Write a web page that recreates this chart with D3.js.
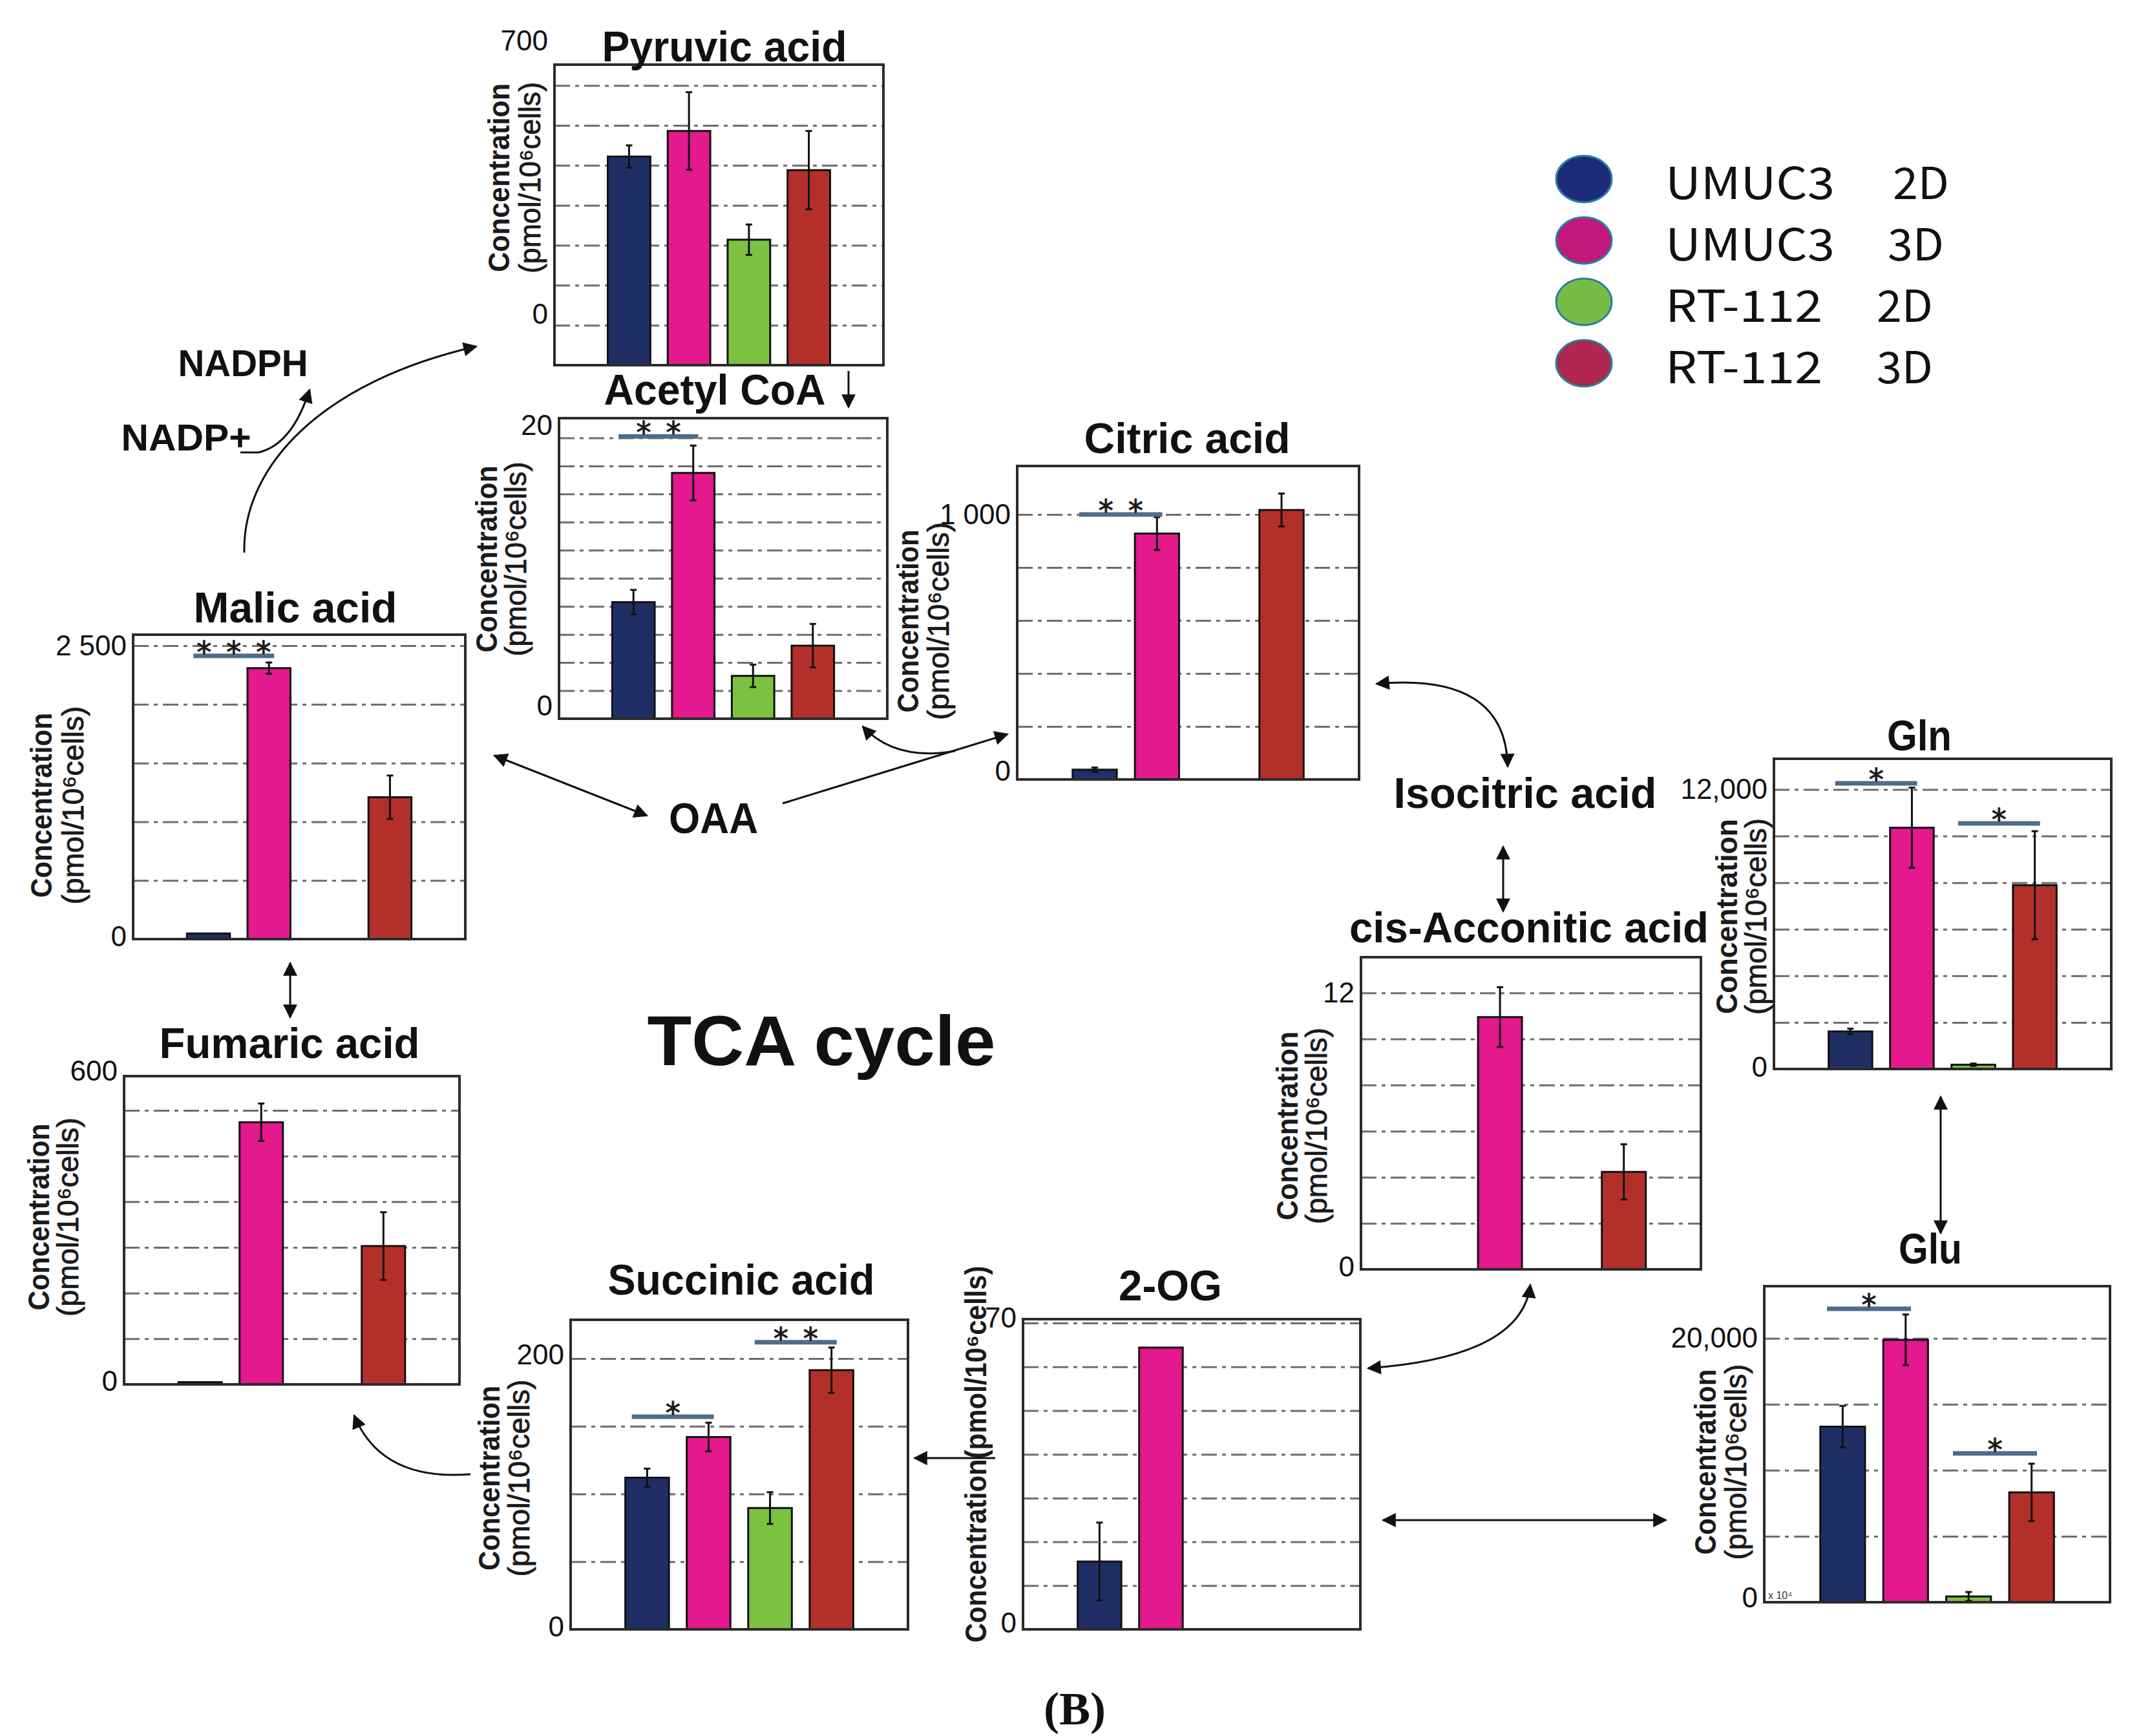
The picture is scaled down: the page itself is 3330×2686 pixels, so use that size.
<!DOCTYPE html>
<html>
<head>
<meta charset="utf-8">
<script src="https://cdn.jsdelivr.net/npm/d3@7"></script>
<style>
  body { margin: 0; background: #fff; }
</style>
</head>
<body>
<div id="chart"></div>
<script>
const W = 3330, H = 2686;

// groups and colours
const groups = ["UMUC3 2D", "UMUC3 3D", "RT-112 2D", "RT-112 3D"];
const legendNames = ["UMUC3", "UMUC3", "RT-112", "RT-112"];
const legendDims = ["2D", "3D", "2D", "3D"];
const barColors = ["#1f2f66", "#e3198d", "#7cc142", "#b3302a"];
const legendColors = ["#1e2b78", "#c0187b", "#78bc45", "#b0264e"];

// concentrations (pmol/10^6 cells), mean and error, null = not shown
const pyruvicMean = [522, 586, 314, 488];
const pyruvicErr = [28, 97, 38, 98];
const acetylMean = [8.3, 17.5, 3.05, 5.2];
const acetylErr = [0.87, 1.95, 0.8, 1.55];
const citricMean = [37, 928, null, 1017];
const citricErr = [8, 62, null, 62];
const malicMean = [48, 2309, null, 1209];
const malicErr = [null, 48, null, 185];
const fumaricMean = [5, 574, null, 303];
const fumaricErr = [null, 41, null, 74];
const succinicMean = [112, 142, 89.6, 191.4];
const succinicErr = [6.7, 10.6, 11.7, 16.7];
const ogMean = [15.5, 64.4, null, null];
const ogErr = [8.9, null, null, null];
const aconiticMean = [null, 10.95, null, 4.23];
const aconiticErr = [null, 1.3, null, 1.2];
const glnMean = [1612, 10357, 184, 7888];
const glnErr = [120, 1720, 50, 2320];
const gluMean = [13308, 19886, 437, 8327];
const gluErr = [1570, 1920, 340, 2170];

// significance brackets: [group a, group b, level, stars]
const acetylSig = [[0, 1, 20.1, 2]];
const citricSig = [[0, 1, 1000, 2]];
const malicSig = [[0, 1, 2414, 3]];
const succinicSig = [[0, 1, 157, 1], [2, 3, 212, 2]];
const glnSig = [[0, 1, 12265, 1], [2, 3, 10541, 1]];
const gluSig = [[0, 1, 22243, 1], [2, 3, 11274, 1]];

// tick labels
const pyruvicTicks = [0, 700], pyruvicTickText = ["0", "700"];
const acetylTicks = [0, 20], acetylTickText = ["0", "20"];
const citricTicks = [0, 1000], citricTickText = ["0", "1 000"];
const malicTicks = [0, 2500], malicTickText = ["0", "2 500"];
const fumaricTicks = [0, 600], fumaricTickText = ["0", "600"];
const succinicTicks = [0, 200], succinicTickText = ["0", "200"];
const ogTicks = [0, 70], ogTickText = ["0", "70"];
const aconiticTicks = [0, 12], aconiticTickText = ["0", "12"];
const glnTicks = [0, 12000], glnTickText = ["0", "12,000"];
const gluTicks = [0, 20000], gluTickText = ["0", "20,000"];

const svg = d3.select("#chart").append("svg")
    .attr("width", W)
    .attr("height", H)
    .attr("viewBox", `0 0 ${W} ${H}`)
    .style("background", "#fff");

const defs = svg.append("defs");
defs.append("marker")
    .attr("id", "arr")
    .attr("viewBox", "0 0 10 10")
    .attr("refX", 9).attr("refY", 5)
    .attr("markerWidth", 26).attr("markerHeight", 22)
    .attr("markerUnits", "userSpaceOnUse")
    .attr("orient", "auto-start-reverse")
    .append("path")
    .attr("d", "M0,0 L10,5 L0,10 z")
    .attr("fill", "#111");

const titleFont = "'Liberation Sans', Arial, sans-serif";

function drawPanel(p, means, errs, sigs, tickVals, tickText) {
    const [x0, y0, x1, y1] = p.frame;
    const x = d3.scaleBand().domain(d3.range(groups.length))
        .range([x0, x1]).paddingInner(0.29).paddingOuter(0.89);
    const y = d3.scaleLinear().domain([0, p.yMax]).range([y1, y0]);
    const g = svg.append("g");

    // dashed grid
    const grid = g.append("g")
        .attr("transform", `translate(${x0},0)`)
        .call(d3.axisLeft(y)
            .tickValues(d3.range(1, p.nGrid + 1).map(i => i * p.step))
            .tickSize(-(x1 - x0))
            .tickFormat(""));
    grid.select(".domain").remove();
    grid.selectAll("line")
        .attr("stroke", "#3c3c3c")
        .attr("stroke-width", 3)
        .attr("stroke-opacity", 0.75)
        .attr("stroke-dasharray", "24 8 6 8");

    const rows = means.map((m, i) => ({ i, m, e: errs[i] })).filter(d => d.m != null);

    g.selectAll(".bar").data(rows).join("rect")
        .attr("x", d => x(d.i))
        .attr("width", x.bandwidth())
        .attr("y", d => y(d.m))
        .attr("height", d => y(0) - y(d.m))
        .attr("fill", d => barColors[d.i])
        .attr("stroke", "#111")
        .attr("stroke-width", 3);

    const eb = rows.filter(d => d.e != null);
    const cx = d => x(d.i) + x.bandwidth() / 2;
    g.selectAll(".err").data(eb).join("line")
        .attr("x1", cx).attr("x2", cx)
        .attr("y1", d => y(d.m - d.e)).attr("y2", d => y(d.m + d.e))
        .attr("stroke", "#111").attr("stroke-width", 3);
    ["hi", "lo"].forEach(k => {
        g.selectAll(".cap" + k).data(eb).join("line")
            .attr("x1", d => cx(d) - 5).attr("x2", d => cx(d) + 5)
            .attr("y1", d => y(k === "hi" ? d.m + d.e : d.m - d.e))
            .attr("y2", d => y(k === "hi" ? d.m + d.e : d.m - d.e))
            .attr("stroke", "#111").attr("stroke-width", 3);
    });

    // frame
    g.append("rect")
        .attr("x", x0).attr("y", y0)
        .attr("width", x1 - x0).attr("height", y1 - y0)
        .attr("fill", "none")
        .attr("stroke", "#2b2b2b")
        .attr("stroke-width", 4);

    // significance
    (sigs || []).forEach(([a, b, lvl, n]) => {
        const sx1 = x(a) + x.bandwidth() * 0.15;
        const sx2 = x(b) + x.bandwidth() * 0.62;
        const sy = y(lvl);
        g.append("line")
            .attr("x1", sx1).attr("x2", sx2).attr("y1", sy).attr("y2", sy)
            .attr("stroke", "#4e6c8c").attr("stroke-width", 7);
        const mid = (sx1 + sx2) / 2;
        d3.range(n).forEach(k => {
            g.append("text")
                .attr("x", mid + (k - (n - 1) / 2) * 46)
                .attr("y", sy + 10)
                .attr("text-anchor", "middle")
                .attr("font-family", "'DejaVu Sans', sans-serif")
                .attr("font-size", 46)
                .attr("fill", "#1a1a1a")
                .attr("stroke", "#1a1a1a")
                .attr("stroke-width", 1)
                .text("*");
        });
    });

    // tick labels
    const ax = g.append("g")
        .attr("transform", `translate(${x0},0)`)
        .call(d3.axisLeft(y).tickValues(tickVals)
            .tickFormat((d, i) => tickText[i]).tickSize(0).tickPadding(10));
    ax.select(".domain").remove();
    ax.selectAll("text")
        .attr("font-family", titleFont)
        .attr("font-size", 44)
        .attr("fill", "#111")
        .attr("dy", (d, i) => (0.32 * 44 + p.tickDy[i]) + "px");

    // title
    svg.append("text")
        .attr("x", p.title[1]).attr("y", p.title[2])
        .attr("text-anchor", "middle")
        .attr("font-family", titleFont)
        .attr("font-weight", "bold")
        .attr("font-size", 66)
        .attr("textLength", p.title[3])
        .attr("lengthAdjust", "spacingAndGlyphs")
        .attr("fill", "#111")
        .text(p.title[0]);

    // y label
    const lab = p.ylab;
    const lines = lab.single
        ? [["Concentration(pmol/10⁶cells)", lab.x1, lab.len1, "bold"]]
        : [["Concentration", lab.x1, lab.len1, "bold"],
           ["(pmol/10⁶cells)", lab.x2, lab.len2, "normal"]];
    lines.forEach(([t, lx, len, fw]) => {
        svg.append("text")
            .attr("transform", `translate(${lx},${lab.cy}) rotate(-90)`)
            .attr("text-anchor", "middle")
            .attr("dominant-baseline", "central")
            .attr("font-family", titleFont)
            .attr("font-weight", fw)
            .attr("font-size", 46)
            .attr("textLength", len)
            .attr("lengthAdjust", "spacingAndGlyphs")
            .attr("fill", "#1a1a1a")
            .attr("stroke", fw === "normal" ? "#1a1a1a" : "none")
            .attr("stroke-width", 0.8)
            .text(t);
    });
    return { x, y };
}

// panel layout
const L = {
    pyruvic: { frame: [858, 100, 1367, 565], yMax: 752, step: 100, nGrid: 7, tickDy: [-79, -69],
        title: ["Pyruvic acid", 1121, 95, 379], ylab: { x1: 772, x2: 820, cy: 275, len1: 292, len2: 296 } },
    acetyl: { frame: [865, 647, 1373, 1112], yMax: 21.4, step: 2, nGrid: 10, tickDy: [-20, -19],
        title: ["Acetyl CoA", 1106, 626, 343], ylab: { x1: 753, x2: 798, cy: 865, len1: 289, len2: 301 } },
    citric: { frame: [1574, 721, 2103, 1206], yMax: 1183, step: 200, nGrid: 5, tickDy: [-13, 0],
        title: ["Citric acid", 1837, 701, 319], ylab: { x1: 1405, x2: 1452, cy: 961, len1: 283, len2: 306 } },
    malic: { frame: [206, 982, 720, 1453], yMax: 2594, step: 500, nGrid: 5, tickDy: [-4, 0],
        title: ["Malic acid", 457, 963, 315], ylab: { x1: 64, x2: 113, cy: 1246, len1: 286, len2: 307 } },
    fumaric: { frame: [192, 1665, 711, 2142], yMax: 675, step: 100, nGrid: 6, tickDy: [-5, -61],
        title: ["Fumaric acid", 448, 1637, 403], ylab: { x1: 60, x2: 105, cy: 1883, len1: 289, len2: 308 } },
    succinic: { frame: [883, 2042, 1405, 2521], yMax: 228.6, step: 50, nGrid: 4, tickDy: [-4, -6],
        title: ["Succinic acid", 1147, 2003, 413], ylab: { x1: 757, x2: 803, cy: 2287, len1: 286, len2: 305 } },
    og: { frame: [1583, 2041, 2105, 2521], yMax: 70.9, step: 10, nGrid: 7, tickDy: [-10, -8],
        title: ["2-OG", 1811, 2012, 160], ylab: { single: true, x1: 1510, cy: 2250, len1: 583 } },
    aconitic: { frame: [2106, 1481, 2632, 1964], yMax: 13.55, step: 2, nGrid: 6, tickDy: [-4, 0],
        title: ["cis-Acconitic acid", 2366, 1458, 556], ylab: { x1: 1992, x2: 2037, cy: 1742, len1: 292, len2: 304 } },
    gln: { frame: [2745, 1174, 3267, 1654], yMax: 13316, step: 2000, nGrid: 6, tickDy: [-3, 0],
        title: ["Gln", 2970, 1161, 100], ylab: { x1: 2672, x2: 2717, cy: 1418, len1: 302, len2: 304 } },
    glu: { frame: [2730, 1990, 3265, 2479], yMax: 23954, step: 5000, nGrid: 4, tickDy: [-7, 0],
        title: ["Glu", 2987, 1955, 98], ylab: { x1: 2639, x2: 2686, cy: 2262, len1: 287, len2: 303 } }
};

drawPanel(L.pyruvic, pyruvicMean, pyruvicErr, [], pyruvicTicks, pyruvicTickText);
drawPanel(L.acetyl, acetylMean, acetylErr, acetylSig, acetylTicks, acetylTickText);
drawPanel(L.citric, citricMean, citricErr, citricSig, citricTicks, citricTickText);
drawPanel(L.malic, malicMean, malicErr, malicSig, malicTicks, malicTickText);
drawPanel(L.fumaric, fumaricMean, fumaricErr, [], fumaricTicks, fumaricTickText);
drawPanel(L.succinic, succinicMean, succinicErr, succinicSig, succinicTicks, succinicTickText);
drawPanel(L.og, ogMean, ogErr, [], ogTicks, ogTickText);
drawPanel(L.aconitic, aconiticMean, aconiticErr, [], aconiticTicks, aconiticTickText);
drawPanel(L.gln, glnMean, glnErr, glnSig, glnTicks, glnTickText);
drawPanel(L.glu, gluMean, gluErr, gluSig, gluTicks, gluTickText);

// small x10^4 note on Glu axis
svg.append("text")
    .attr("x", 2736).attr("y", 2474)
    .attr("font-family", titleFont).attr("font-size", 16).attr("fill", "#333")
    .text("x 10⁴");

// free labels
const freeLabels = [
    ["Isocitric acid", 2360, 1250, 407, 66],
    ["OAA", 1104, 1289, 138, 66],
    ["NADPH", 376, 582, 201, 58],
    ["NADP+", 288, 697, 201, 58],
    ["TCA cycle", 1271, 1648, 539, 110]
];
svg.selectAll(".free").data(freeLabels).join("text")
    .attr("x", d => d[1]).attr("y", d => d[2])
    .attr("text-anchor", "middle")
    .attr("font-family", titleFont)
    .attr("font-weight", "bold")
    .attr("font-size", d => d[4])
    .attr("textLength", d => d[3])
    .attr("lengthAdjust", "spacingAndGlyphs")
    .attr("fill", "#111")
    .text(d => d[0]);

svg.append("text")
    .attr("x", 1663).attr("y", 2668)
    .attr("text-anchor", "middle")
    .attr("font-family", "'Liberation Serif', 'Times New Roman', serif")
    .attr("font-weight", "bold")
    .attr("font-size", 72)
    .attr("fill", "#111")
    .text("(B)");

// pathway arrows
const arrows = [
    { d: "M378,855 C375,720 500,590 737,536", end: true },
    { d: "M372,700 L400,700 Q452,688 479,603", end: true },
    { d: "M1313,574 L1313,630", end: true },
    { d: "M765,1169 L1001,1262", start: true, end: true },
    { d: "M1211,1243 L1559,1136", end: true },
    { d: "M1478,1162 Q1385,1178 1335,1124", end: true },
    { d: "M2130,1058 Q2330,1040 2333,1186", start: true, end: true },
    { d: "M2326,1310 L2326,1410", start: true, end: true },
    { d: "M2117,2117 Q2355,2100 2368,1988", start: true, end: true },
    { d: "M1540,2256 L1415,2256", end: true },
    { d: "M728,2281 Q590,2292 548,2190", end: true },
    { d: "M449,1490 L449,1574", start: true, end: true },
    { d: "M3003,1697 L3003,1908", start: true, end: true },
    { d: "M2140,2352 L2578,2352", start: true, end: true }
];
svg.selectAll(".arrow").data(arrows).join("path")
    .attr("d", d => d.d)
    .attr("fill", "none")
    .attr("stroke", "#111")
    .attr("stroke-width", 3)
    .attr("marker-start", d => d.start ? "url(#arr)" : null)
    .attr("marker-end", d => d.end ? "url(#arr)" : null);

// legend
const legendY = d3.scalePoint().domain(d3.range(groups.length)).range([277, 562]);
const lg = svg.append("g");
lg.selectAll("ellipse").data(groups).join("ellipse")
    .attr("cx", 2451)
    .attr("cy", (d, i) => legendY(i))
    .attr("rx", 43).attr("ry", 36)
    .attr("fill", (d, i) => legendColors[i])
    .attr("stroke", "#2a7f9a")
    .attr("stroke-width", 3);
lg.selectAll(".lname").data(legendNames).join("text")
    .attr("x", 2577)
    .attr("y", (d, i) => legendY(i) + 31)
    .attr("font-family", "'Noto Sans CJK JP', 'Noto Sans', sans-serif")
    .attr("font-size", 68)
    .attr("textLength", d => d === "UMUC3" ? 262 : 243)
    .attr("lengthAdjust", "spacingAndGlyphs")
    .attr("fill", "#111")
    .text(d => d);
const dimX = [2929, 2921, 2904, 2904];
lg.selectAll(".ldim").data(legendDims).join("text")
    .attr("x", (d, i) => dimX[i])
    .attr("y", (d, i) => legendY(i) + 31)
    .attr("font-family", "'Noto Sans CJK JP', 'Noto Sans', sans-serif")
    .attr("font-size", 68)
    .attr("textLength", 87)
    .attr("lengthAdjust", "spacingAndGlyphs")
    .attr("fill", "#111")
    .text(d => d);
</script>
</body>
</html>
